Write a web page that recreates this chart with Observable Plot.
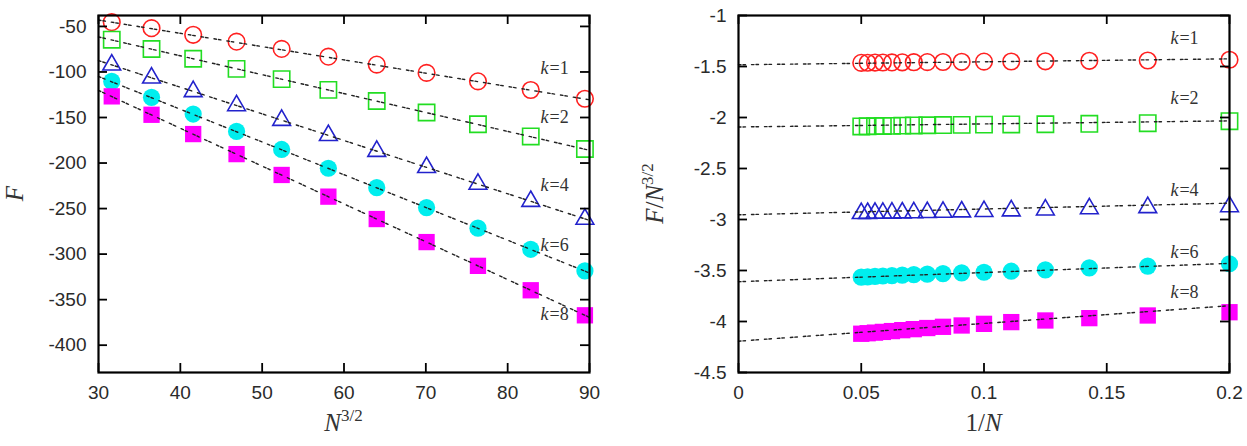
<!DOCTYPE html>
<html>
<head>
<meta charset="utf-8">
<script src="https://cdn.jsdelivr.net/npm/d3@7"></script>
<script src="https://cdn.jsdelivr.net/npm/@observablehq/plot@0.6"></script>
<style>
  html, body { margin: 0; padding: 0; background: #fff; }
  #figure { display: flex; width: 1247px; height: 446px; }
  #figure svg { display: block; }
</style>
</head>
<body>
<div id="figure"></div>
<script>
// ---------- data ----------
const kValues = ["1", "2", "4", "6", "8"];

// Left panel: free energy F against N^{3/2}, N = 10 … 20
const xN32 = [31.62, 36.48, 41.57, 46.87, 52.38, 58.09, 64.0, 70.09, 76.37, 82.82, 89.44];
const F_k1 = [-45.3, -51.9, -59.2, -66.7, -74.7, -83.2, -91.9, -101.0, -110.3, -119.8, -129.4];
const F_k2 = [-64.6, -74.8, -85.5, -96.6, -107.9, -119.7, -131.9, -144.5, -157.4, -170.8, -184.6];
const F_k4 = [-92.2, -106.5, -121.4, -136.9, -153.0, -169.7, -187.0, -204.8, -223.1, -242.0, -261.5];
const F_k6 = [-110.4, -127.9, -146.2, -165.3, -185.1, -205.7, -227.0, -248.9, -271.5, -294.7, -318.5];
const F_k8 = [-126.8, -147.0, -168.2, -190.2, -213.1, -236.9, -261.5, -286.8, -312.9, -339.7, -367.2];

// Left panel fit lines, sampled at the ends of the x range
const fitXLeft = [30, 90];
const fitF_k1 = [-43.0, -130.5];
const fitF_k2 = [-61.5, -186.0];
const fitF_k4 = [-87.5, -263.0];
const fitF_k6 = [-105.0, -320.7];
const fitF_k8 = [-120.3, -369.5];

// Right panel: F/N^{3/2} against 1/N, N = 20 … 5
const xInvN = [0.05, 0.0526, 0.0556, 0.0588, 0.0625, 0.0667, 0.0714, 0.0769, 0.0833, 0.0909, 0.1, 0.1111, 0.125, 0.1429, 0.1667, 0.2];
const R_k1 = [-1.464, -1.463, -1.462, -1.461, -1.460, -1.459, -1.458, -1.457, -1.456, -1.454, -1.452, -1.451, -1.449, -1.444, -1.441, -1.434];
const R_k2 = [-2.088, -2.086, -2.085, -2.083, -2.082, -2.080, -2.078, -2.076, -2.074, -2.072, -2.070, -2.068, -2.066, -2.062, -2.056, -2.036];
const R_k4 = [-2.940, -2.939, -2.938, -2.937, -2.936, -2.934, -2.932, -2.930, -2.927, -2.924, -2.920, -2.914, -2.905, -2.893, -2.882, -2.873];
const R_k6 = [-3.565, -3.562, -3.558, -3.554, -3.550, -3.546, -3.541, -3.536, -3.530, -3.523, -3.517, -3.507, -3.494, -3.474, -3.457, -3.434];
const R_k8 = [-4.120, -4.115, -4.109, -4.102, -4.094, -4.085, -4.075, -4.064, -4.052, -4.039, -4.023, -4.006, -3.990, -3.967, -3.941, -3.909];

// Right panel fit lines (extrapolated to 1/N = 0)
const fitXRight = [0, 0.2];
const fitR_k1 = [-1.483, -1.425];
const fitR_k2 = [-2.093, -2.033];
const fitR_k4 = [-2.954, -2.840];
const fitR_k6 = [-3.610, -3.430];
const fitR_k8 = [-4.193, -3.845];

// Tick values
const xTicksLeft = [30, 40, 50, 60, 70, 80, 90];
const yTicksLeft = [-50, -100, -150, -200, -250, -300, -350, -400];
const xTicksRight = [0, 0.05, 0.1, 0.15, 0.2];
const yTicksRight = [-1, -1.5, -2, -2.5, -3, -3.5, -4, -4.5];

// ---------- styles ----------
const looks = [
  {symbol: "circle",   color: "#ff2020", filled: false, r: 8.3},
  {symbol: "square",   color: "#22dd22", filled: false, r: 9.2},
  {symbol: "triangle", color: "#2222cc", filled: false, r: 6.6},
  {symbol: "circle",   color: "#00eeee", filled: true,  r: 8.6},
  {symbol: "square",   color: "#ff00ff", filled: true,  r: 9.2}
];
const serif = "'Liberation Serif', 'DejaVu Serif', serif";
const sans = "'Liberation Sans', Arial, sans-serif";
const dash = "2.5,2,2.5,6";

function rowsOf(xs, ys, k) { return xs.map((x, i) => ({k, x, y: ys[i]})); }

function panel({width, marginLeft, marginRight, xDomain, yDomain, xTicks, yTicks,
                pointX, pointSets, fitX, fitSets, labelX, labelYs}) {
  const marginTop = 15, marginBottom = 74, height = 446;
  const fw = width - marginLeft - marginRight;
  const fh = height - marginTop - marginBottom;
  const tickPx = 9;
  // tick length expressed in data units of each scale
  const tx = (xDomain[1] - xDomain[0]) * tickPx / fw;
  const ty = (yDomain[1] - yDomain[0]) * tickPx / fh;
  const fmt = d => String(d);

  const marks = [];
  pointSets.forEach((ys, i) => {
    const L = looks[i];
    marks.push(Plot.dot(rowsOf(pointX, ys, kValues[i]), {
      x: "x", y: "y", symbol: L.symbol, r: L.r,
      fill: L.filled ? L.color : "none",
      stroke: L.filled ? "none" : L.color,
      strokeWidth: 1.6
    }));
  });
  fitSets.forEach((ys, i) => {
    marks.push(Plot.line(rowsOf(fitX, ys, kValues[i]), {
      x: "x", y: "y", stroke: "#222", strokeWidth: 1.4, strokeDasharray: dash
    }));
  });
  // labels "k=…"
  const lab = kValues.map((k, i) => ({k, x: labelX, y: labelYs[i]}));
  marks.push(Plot.text(lab, {x: "x", y: "y", text: () => "k", textAnchor: "end",
    fontFamily: serif, fontStyle: "italic", fontSize: 18, fill: "#333"}));
  marks.push(Plot.text(lab, {x: "x", y: "y", text: d => "=" + d.k, textAnchor: "start", dx: 1,
    fontFamily: serif, fontSize: 18, fill: "#333"}));

  // inward ticks on all four sides
  const tickStyle = {stroke: "black", strokeWidth: 1.8};
  marks.push(Plot.ruleY(yTicks, {y: d => d, x1: xDomain[0], x2: xDomain[0] + tx, ...tickStyle}));
  marks.push(Plot.ruleY(yTicks, {y: d => d, x1: xDomain[1] - tx, x2: xDomain[1], ...tickStyle}));
  marks.push(Plot.ruleX(xTicks, {x: d => d, y1: yDomain[0], y2: yDomain[0] + ty, ...tickStyle}));
  marks.push(Plot.ruleX(xTicks, {x: d => d, y1: yDomain[1] - ty, y2: yDomain[1], ...tickStyle}));
  marks.push(Plot.frame({stroke: "black", strokeWidth: 2.2}));
  marks.push(Plot.axisY(yTicks, {anchor: "left", tickSize: 0, tickPadding: 12, tickFormat: fmt, label: null}));
  marks.push(Plot.axisX(xTicks, {anchor: "bottom", tickSize: 0, tickPadding: 13, tickFormat: fmt, label: null}));

  return Plot.plot({
    width, height, marginLeft, marginRight, marginTop, marginBottom,
    x: {domain: xDomain},
    y: {domain: yDomain},
    style: {fontFamily: sans, fontSize: "19px", color: "#2a2a2a", background: "white", overflow: "visible"},
    marks
  });
}

const left = panel({
  width: 623, marginLeft: 98, marginRight: 34,
  xDomain: [30, 90], yDomain: [-430, -38],
  xTicks: xTicksLeft, yTicks: yTicksLeft,
  pointX: xN32, pointSets: [F_k1, F_k2, F_k4, F_k6, F_k8],
  fitX: fitXLeft, fitSets: [fitF_k1, fitF_k2, fitF_k4, fitF_k6, fitF_k8],
  labelX: 85.0, labelYs: [-96, -150, -224.7, -290.6, -365.6]
});

const right = panel({
  width: 624, marginLeft: 115, marginRight: 18,
  xDomain: [0, 0.2], yDomain: [-4.5, -1],
  xTicks: xTicksRight, yTicks: yTicksRight,
  pointX: xInvN, pointSets: [R_k1, R_k2, R_k4, R_k6, R_k8],
  fitX: fitXRight, fitSets: [fitR_k1, fitR_k2, fitR_k4, fitR_k6, fitR_k8],
  labelX: 0.1792, labelYs: [-1.225, -1.81, -2.716, -3.32, -3.716]
});

// Axis titles with italic symbols and superscripts
function title(svg, {x, y, rotate, parts}) {
  const t = d3.select(svg).append("text")
    .attr("transform", `translate(${x},${y})` + (rotate ? " rotate(-90)" : ""))
    .attr("text-anchor", "middle")
    .attr("font-family", serif)
    .attr("font-size", 25)
    .attr("fill", "#333");
  parts.forEach(p => {
    const s = t.append("tspan").text(p.t);
    if (p.italic) s.attr("font-style", "italic");
    if (p.sup) s.attr("font-size", 17).attr("dy", -10);
  });
}

const midX = s => { const r = s.scale("x").range; return (r[0] + r[1]) / 2; };
const midY = s => { const r = s.scale("y").range; return (r[0] + r[1]) / 2; };

title(left, {x: 23, y: midY(left), rotate: true, parts: [{t: "F", italic: true}]});
title(left, {x: midX(left), y: 431, parts: [{t: "N", italic: true}, {t: "3/2", sup: true}]});
title(right, {x: 40, y: midY(right), rotate: true,
  parts: [{t: "F", italic: true}, {t: "/"}, {t: "N", italic: true}, {t: "3/2", sup: true}]});
title(right, {x: midX(right), y: 431, parts: [{t: "1/"}, {t: "N", italic: true}]});

document.getElementById("figure").append(left, right);
</script>
</body>
</html>
